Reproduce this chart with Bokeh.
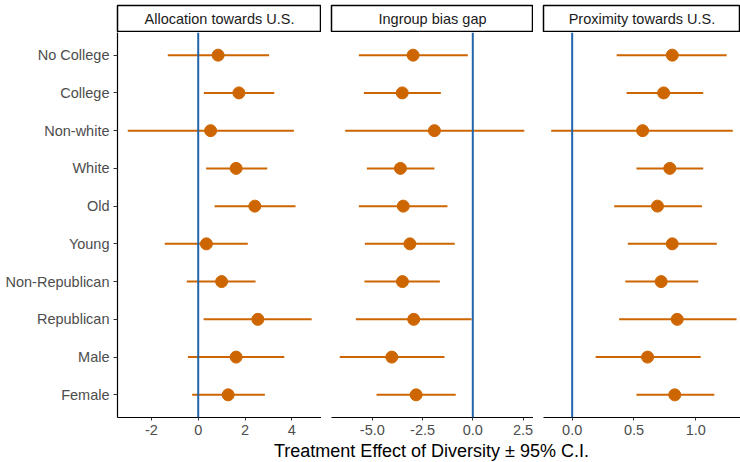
from bokeh.plotting import figure
from bokeh.models import (FactorRange, Range1d, FixedTicker, Span, Label,
                          PrintfTickFormatter, ColumnDataSource)
from bokeh.layouts import row, column
from bokeh.embed import file_html
from bokeh.resources import INLINE

# ---------------- data ----------------
groups = ["No College", "College", "Non-white", "White", "Old", "Young",
          "Non-Republican", "Republican", "Male", "Female"]

panel_titles = ["Allocation towards U.S.", "Ingroup bias gap", "Proximity towards U.S."]

alloc_est = [0.85, 1.74, 0.53, 1.62, 2.42, 0.35, 1.00, 2.55, 1.62, 1.28]
alloc_lo = [-1.30, 0.24, -3.01, 0.34, 0.70, -1.43, -0.49, 0.23, -0.44, -0.26]
alloc_hi = [3.03, 3.25, 4.09, 2.95, 4.16, 2.12, 2.45, 4.85, 3.68, 2.85]

bias_est = [-2.97, -3.51, -1.91, -3.60, -3.46, -3.13, -3.50, -2.94, -4.03, -2.82]
bias_lo = [-5.67, -5.42, -6.35, -5.27, -5.67, -5.37, -5.39, -5.82, -6.62, -4.79]
bias_hi = [-0.25, -1.59, 2.56, -1.91, -1.26, -0.90, -1.64, -0.06, -1.41, -0.85]

prox_est = [0.81, 0.74, 0.57, 0.79, 0.69, 0.81, 0.72, 0.85, 0.61, 0.83]
prox_lo = [0.36, 0.44, -0.17, 0.52, 0.34, 0.45, 0.43, 0.38, 0.19, 0.52]
prox_hi = [1.25, 1.06, 1.30, 1.06, 1.05, 1.17, 1.02, 1.33, 1.04, 1.15]

alloc_ticks = [-2, 0, 2, 4]
bias_ticks = [-5.0, -2.5, 0.0, 2.5]
prox_ticks = [0.0, 0.5, 1.0]

x_title = "Treatment Effect of Diversity \u00b1 95% C.I."

# ---------------- style ----------------
FONT = "Liberation Sans"
ORANGE = "#CD6600"
BLUE = "#2166AC"
TICK_GRAY = "#4D4D4D"

factors = list(reversed(groups))

panels = [
    dict(title=panel_titles[0], est=alloc_est, lo=alloc_lo, hi=alloc_hi, ticks=alloc_ticks,
         xr=(-3.45, 5.27), fmt="%d", width=321, left=117, yaxis=True),
    dict(title=panel_titles[1], est=bias_est, lo=bias_lo, hi=bias_hi, ticks=bias_ticks,
         xr=(-7.03, 3.02), fmt="%.1f", width=212, left=10, yaxis=False),
    dict(title=panel_titles[2], est=prox_est, lo=prox_lo, hi=prox_hi, ticks=prox_ticks,
         xr=(-0.232, 1.362), fmt="%.1f", width=207, left=10, yaxis=False),
]

cols = []
for pn in panels:
    # strip header
    s = figure(width=pn["width"], height=32, x_range=Range1d(0, 1), y_range=Range1d(0, 1),
               output_backend="svg", toolbar_location=None,
               x_axis_location=None, y_axis_location=None,
               min_border_left=pn["left"], min_border_right=0,
               min_border_top=5, min_border_bottom=0)
    s.grid.visible = False
    s.outline_line_color = "black"
    s.outline_line_width = 1.5
    s.outline_line_alpha = 1.0
    s.add_layout(Label(x=0.5, y=0.5, text=pn["title"], text_align="center",
                       text_baseline="middle", text_font=FONT, text_font_size="14.5px",
                       text_color="#1A1A1A"))

    yr = FactorRange(factors=factors, range_padding=0.1, range_padding_units="absolute")
    p = figure(width=pn["width"], height=410, y_range=yr,
               x_range=Range1d(*pn["xr"]),
               output_backend="svg", toolbar_location=None,
               y_axis_location="left" if pn["yaxis"] else None,
               min_border_left=pn["left"], min_border_right=0,
               min_border_top=0, min_border_bottom=25)
    p.grid.visible = False
    p.outline_line_color = None

    src = ColumnDataSource(dict(g=groups, est=pn["est"], lo=pn["lo"], hi=pn["hi"]))
    p.add_layout(Span(location=0, dimension="height", line_color=BLUE, line_width=2))
    p.segment(x0="lo", x1="hi", y0="g", y1="g", source=src, line_color=ORANGE, line_width=2)
    p.scatter(x="est", y="g", source=src, size=12, fill_color=ORANGE, line_color=ORANGE)

    xa = p.xaxis[0]
    xa.ticker = FixedTicker(ticks=pn["ticks"], minor_ticks=[])
    xa.formatter = PrintfTickFormatter(format=pn["fmt"])
    xa.axis_line_color = "black"
    xa.axis_line_width = 1.2
    xa.major_tick_line_color = "#333333"
    xa.major_tick_out = 3
    xa.major_tick_in = 0
    xa.minor_tick_line_color = None
    xa.major_label_text_font = FONT
    xa.major_label_text_font_size = "14.5px"
    xa.major_label_text_color = TICK_GRAY
    xa.major_label_standoff = 4

    if pn["yaxis"]:
        ya = p.yaxis[0]
        ya.axis_line_color = "black"
        ya.axis_line_width = 1.2
        ya.major_tick_line_color = "#333333"
        ya.major_tick_out = 4
        ya.major_tick_in = 0
        ya.major_label_text_font = FONT
        ya.major_label_text_font_size = "14.5px"
        ya.major_label_text_color = TICK_GRAY
        ya.major_label_standoff = 4

    cols.append(column(s, p, spacing=0))

# shared x-axis title
t = figure(width=740, height=20, x_range=Range1d(0, 1), y_range=Range1d(0, 1),
           output_backend="svg", toolbar_location=None,
           x_axis_location=None, y_axis_location=None,
           min_border_left=0, min_border_right=0, min_border_top=0, min_border_bottom=0)
t.grid.visible = False
t.outline_line_color = None
t.add_layout(Label(x=431, y=12, x_units="screen", y_units="screen", text=x_title,
                   text_align="center", text_baseline="middle", text_font=FONT,
                   text_font_size="18px", text_color="black"))

layout = column(row(*cols, spacing=0), t, spacing=0)

open("out.html", "w").write(file_html(layout, INLINE))
